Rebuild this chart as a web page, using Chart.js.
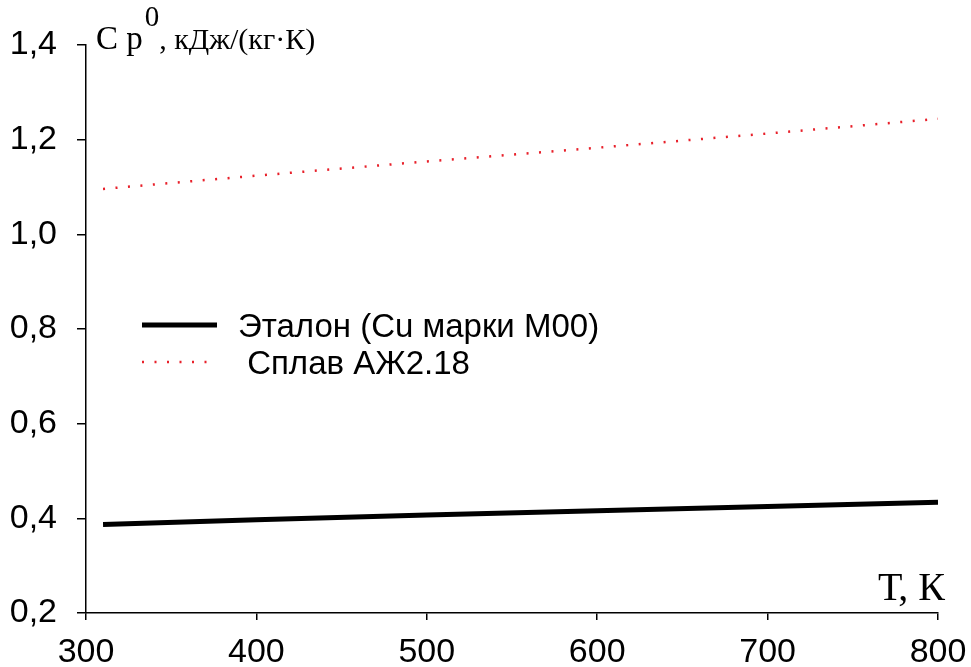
<!DOCTYPE html>
<html>
<head>
<meta charset="utf-8">
<script src="https://cdn.jsdelivr.net/npm/chart.js@4.4.1/dist/chart.umd.min.js"></script>
<style>
  html, body { margin: 0; padding: 0; background: #fff; }
  #wrap { width: 971px; height: 667px; }
</style>
</head>
<body>
<div id="wrap"><canvas id="chart" width="971" height="667"></canvas></div>
<script>
// data
const temps = [310, 400, 500, 600, 700, 800];
const etalonCp = [0.387, 0.397, 0.407, 0.416, 0.425, 0.434];
const splavCp = [1.096, 1.124, 1.154, 1.183, 1.213, 1.244];
const seriesNames = ['Эталон (Cu марки М00)', ' Сплав АЖ2.18'];
const xTicks = [300, 400, 500, 600, 700, 800];
const yTicks = [0.2, 0.4, 0.6, 0.8, 1.0, 1.2, 1.4];

const sans = '"Liberation Sans", Arial, sans-serif';
const serif = '"Liberation Serif", "Times New Roman", serif';

// axis titles and the legend sit inside the plot, so draw them by hand
const extras = {
  id: 'extras',
  afterDraw(chart) {
    const ctx = chart.ctx;
    ctx.save();
    ctx.fillStyle = '#000';
    ctx.textBaseline = 'alphabetic';
    ctx.textAlign = 'left';

    // y title: C p^0, кДж/(кг·К)
    ctx.font = '33px ' + serif;
    ctx.fillText('С р', 96, 49);
    let w = ctx.measureText('С р').width;
    ctx.font = '29px ' + serif;
    ctx.fillText('0', 98 + w, 26);
    let w0 = ctx.measureText('0').width;
    ctx.font = '30px ' + serif;
    ctx.fillText(', кДж/(кг·К)', 98 + w + w0, 49);

    // x title
    ctx.font = '40px ' + serif;
    ctx.textAlign = 'right';
    ctx.fillText('Т, К', 945, 600);

    // legend
    ctx.textAlign = 'left';
    ctx.strokeStyle = '#000';
    ctx.lineWidth = 5;
    ctx.beginPath();
    ctx.moveTo(142, 325);
    ctx.lineTo(217, 325);
    ctx.stroke();

    ctx.strokeStyle = '#e8202a';
    ctx.lineWidth = 2.5;
    ctx.setLineDash([2, 10.5]);
    ctx.beginPath();
    ctx.moveTo(142, 362);
    ctx.lineTo(217, 362);
    ctx.stroke();
    ctx.setLineDash([]);

    ctx.font = '33px ' + sans;
    ctx.fillText(seriesNames[0], 238, 337);
    ctx.fillText(seriesNames[1], 238, 374);
    ctx.restore();
  }
};

const ctx = document.getElementById('chart').getContext('2d');
new Chart(ctx, {
  type: 'line',
  data: {
    datasets: [
      {
        label: seriesNames[0],
        data: temps.map((t, i) => ({ x: t, y: etalonCp[i] })),
        borderColor: '#000',
        borderWidth: 5,
        pointRadius: 0,
        tension: 0
      },
      {
        label: seriesNames[1],
        data: temps.map((t, i) => ({ x: t, y: splavCp[i] })),
        borderColor: '#e8202a',
        borderWidth: 2.5,
        borderDash: [2, 10.5],
        pointRadius: 0,
        tension: 0
      }
    ]
  },
  options: {
    responsive: false,
    animation: false,
    layout: { padding: { left: 0, top: 45, right: 33, bottom: 0 } },
    plugins: { legend: { display: false }, tooltip: { enabled: false } },
    scales: {
      x: {
        type: 'linear',
        min: 300,
        max: 800,
        afterBuildTicks: s => { s.ticks = xTicks.map(v => ({ value: v })); },
        afterFit: s => { s.height = 667 - 613; s.paddingLeft = 0; s.paddingRight = 0; },
        grid: { drawOnChartArea: false, drawTicks: true, tickLength: 7, color: '#000', lineWidth: 1.5 },
        border: { color: '#000', width: 1.5 },
        ticks: { color: '#000', padding: 12, maxRotation: 0, font: { family: sans, size: 34 } }
      },
      y: {
        min: 0.2,
        max: 1.4,
        afterBuildTicks: s => { s.ticks = yTicks.map(v => ({ value: v })); },
        afterFit: s => { s.width = 86; s.paddingTop = 0; s.paddingBottom = 0; },
        grid: { drawOnChartArea: false, drawTicks: true, tickLength: 9, color: '#000', lineWidth: 1.5 },
        border: { color: '#000', width: 1.5 },
        ticks: {
          color: '#000',
          padding: 20,
          font: { family: sans, size: 34 },
          callback: v => v.toFixed(1).replace('.', ',')
        }
      }
    }
  },
  plugins: [extras]
});
</script>
</body>
</html>
